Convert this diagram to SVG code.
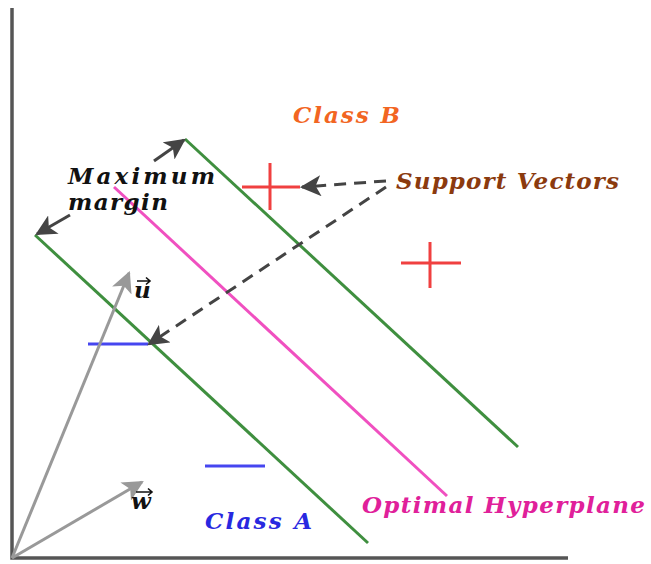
<svg xmlns="http://www.w3.org/2000/svg" width="651" height="564" viewBox="0 0 651 564">
<style>
.lbl{font-family:"DejaVu Serif","Liberation Serif",serif;font-style:italic;font-weight:bold;font-size:23px}
.green{stroke:#3f8f3f;stroke-width:3;fill:none}
.red{stroke:#f04040;stroke-width:3;fill:none}
.blue{stroke:#4646f0;stroke-width:3;fill:none}
.vec{stroke:#999;stroke-width:3;fill:none}
.dark{stroke:#444;stroke-width:3;fill:none}
.dash{stroke:#444;stroke-width:3;fill:none;stroke-dasharray:12,8}
.acc{stroke:#111;stroke-width:1.6;fill:none}
</style>
<defs>
<marker id="ad" viewBox="0 0 10 10" refX="9" refY="5" markerWidth="7" markerHeight="7" markerUnits="strokeWidth" orient="auto"><path d="M0,0 L10,5 L0,10 L2.5,5 z" fill="#444"/></marker>
<marker id="ag" viewBox="0 0 10 10" refX="9" refY="5" markerWidth="7" markerHeight="7" markerUnits="strokeWidth" orient="auto"><path d="M0,0 L10,5 L0,10 L2.5,5 z" fill="#999"/></marker>
</defs>
<g id="axes">
<polyline points="12,8 12,558 568,558" fill="none" stroke="#555" stroke-width="3.5"/>
</g>
<g id="margin-lines">
<line class="green" x1="185" y1="139" x2="518" y2="447"/>
<line class="green" x1="35" y1="235" x2="368" y2="543"/>
</g>
<g id="hyperplane">
<line x1="114" y1="187" x2="447" y2="496" stroke="#f050c0" stroke-width="3"/>
</g>
<g id="classB-points">
<path class="red" d="M242,187 H300 M270,163 V210"/>
<path class="red" d="M401,263 H461 M430,242 V288"/>
</g>
<g id="classA-points">
<path class="blue" d="M88,344 H148"/>
<path class="blue" d="M205,466 H265"/>
</g>
<g id="connectors">
<line class="dark" x1="154" y1="161" x2="184" y2="140" marker-end="url(#ad)"/>
<line class="dark" x1="70" y1="215" x2="37" y2="234" marker-end="url(#ad)"/>
<line class="dash" x1="386" y1="181" x2="302" y2="187" marker-end="url(#ad)"/>
<line class="dash" x1="386" y1="187" x2="149" y2="344" marker-end="url(#ad)"/>
<line class="vec" x1="12" y1="558" x2="129" y2="273" marker-end="url(#ag)"/>
<line class="vec" x1="12" y1="558" x2="142" y2="482" marker-end="url(#ag)"/>
</g>
<g id="labels">
<text class="lbl" x="68" y="184" textLength="147" lengthAdjust="spacing" fill="#111">Maximum</text>
<text class="lbl" x="68" y="210" textLength="100" lengthAdjust="spacing" fill="#111">margin</text>
<text class="lbl" x="293" y="123" textLength="107" lengthAdjust="spacing" fill="#f26522">Class B</text>
<text class="lbl" x="396" y="189" textLength="223" lengthAdjust="spacing" fill="#8b3a0e">Support Vectors</text>
<text class="lbl" x="205" y="529" textLength="107" lengthAdjust="spacing" fill="#2828e0">Class A</text>
<text class="lbl" x="362" y="513" textLength="283" lengthAdjust="spacing" fill="#e0209a">Optimal Hyperplane</text>
<text class="lbl" x="134" y="298" fill="#111">u</text>
<path class="acc" d="M137,281 H150 M146,277.5 L150,281 L146,284.5"/>
<text class="lbl" x="131" y="509" fill="#111">w</text>
<path class="acc" d="M136,492 H152 M148,488.5 L152,492 L148,495.5"/>
</g>
</svg>
